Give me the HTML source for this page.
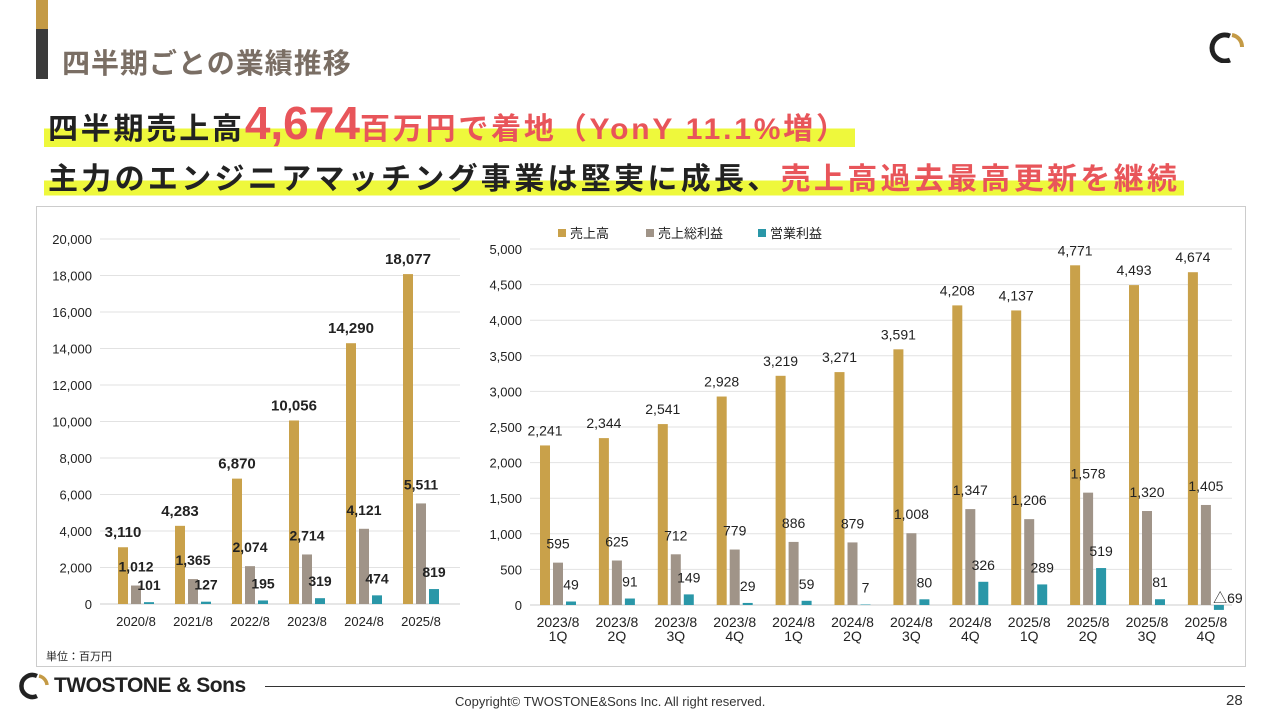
<!DOCTYPE html>
<html><head><meta charset="utf-8">
<style>
body{margin:0;width:1280px;height:720px;background:#fff;overflow:hidden;position:relative;font-family:"Liberation Sans","Noto Sans CJK JP",sans-serif;}
.abs{position:absolute}
.hl{background:linear-gradient(transparent 60%,#eef83c 60%,#eef83c 94%,transparent 94%);}
</style></head><body>
<div class="abs" style="left:36px;top:0;width:12px;height:29px;background:#c49a45"></div>
<div class="abs" style="left:36px;top:29px;width:12px;height:50px;background:#3b3b3b"></div>
<div class="abs" style="left:62px;top:42px;font-size:28px;color:#7a6e64;font-weight:bold;letter-spacing:1px">四半期ごとの業績推移</div>
<div class="abs" style="left:1208px;top:31px;width:36px;height:32px">
<svg width="36" height="32"><path d="M22 5 A13 13 0 1 0 22 29" fill="none" stroke="#222" stroke-width="5"/><path d="M24 4 A12 12 0 0 1 34 16" fill="none" stroke="#c49a45" stroke-width="4"/></svg></div>
<div class="abs hl" style="left:44px;top:96px;font-size:30px;font-weight:bold;color:#222;white-space:nowrap;padding:0 6px 0 4px;letter-spacing:2.8px">四半期売上高<span style="color:#e8555a;font-size:46px;letter-spacing:0">4,674</span><span style="color:#e8555a">百万円で着地（YonY 11.1%増）</span></div>
<div class="abs hl" style="left:44px;top:154px;font-size:30px;font-weight:bold;color:#222;white-space:nowrap;padding:0 4px;letter-spacing:3.3px">主力のエンジニアマッチング事業は堅実に成長、<span style="color:#e8555a">売上高過去最高更新を継続</span></div>
<div class="abs" style="left:36px;top:206px;width:1208px;height:459px;border:1px solid #ccc"></div>
<svg class="abs" id="ch" style="left:0;top:0" width="1280" height="720"></svg>
<div class="abs" style="left:46px;top:648px;font-size:11px;color:#222">単位：百万円</div>
<div class="abs" style="left:18px;top:672px;display:flex;align-items:center">
<svg width="32" height="28"><path d="M19 4 A11 11 0 1 0 19 24" fill="none" stroke="#222" stroke-width="4.5"/><path d="M21 4 A10 10 0 0 1 29 13" fill="none" stroke="#c49a45" stroke-width="3.5"/></svg>
<span style="font-size:21px;font-weight:bold;color:#222;margin-left:4px;letter-spacing:-0.5px">TWOSTONE &amp; Sons</span></div>
<div class="abs" style="left:265px;top:686px;width:980px;height:1px;background:#333"></div>
<div class="abs" style="left:455px;top:694px;font-size:13px;color:#333">Copyright© TWOSTONE&amp;Sons Inc. All right reserved.</div>
<div class="abs" style="left:1226px;top:692px;font-size:15px;color:#333">28</div>
<script>
const annualCats=["2020/8","2021/8","2022/8","2023/8","2024/8","2025/8"];
const annualSales=[3110,4283,6870,10056,14290,18077];
const annualGross=[1012,1365,2074,2714,4121,5511];
const annualOp=[101,127,195,319,474,819];
const annualTicks=[0,2000,4000,6000,8000,10000,12000,14000,16000,18000,20000];
const qCats1=["2023/8","2023/8","2023/8","2023/8","2024/8","2024/8","2024/8","2024/8","2025/8","2025/8","2025/8","2025/8"];
const qCats2=["1Q","2Q","3Q","4Q","1Q","2Q","3Q","4Q","1Q","2Q","3Q","4Q"];
const qSales=[2241,2344,2541,2928,3219,3271,3591,4208,4137,4771,4493,4674];
const qGross=[595,625,712,779,886,879,1008,1347,1206,1578,1320,1405];
const qOp=[49,91,149,29,59,7,80,326,289,519,81,-69];
const qTicks=[0,500,1000,1500,2000,2500,3000,3500,4000,4500,5000];
const C=["#c9a14a","#a09488","#2a97a8"];
const svg=document.getElementById('ch');
const NS="http://www.w3.org/2000/svg";
function mk(t,a,txt){const e=document.createElementNS(NS,t);for(const k in a)e.setAttribute(k,a[k]);if(txt!==undefined)e.textContent=txt;svg.appendChild(e);return e;}
const fmt=v=>v<0?"△"+Math.abs(v):v.toLocaleString("en-US");
function chart(o){
 const y=v=>o.y0-(v/o.max)*(o.y0-o.y1);
 o.ticks.forEach(t=>{const g=mk('line',{x1:o.xl,x2:o.xr,y1:y(t),y2:y(t),stroke:t===0?'#ccc':'#e2e2e2'});
  
  const l=mk('text',{x:o.xl-8,y:y(t)+5,'text-anchor':'end','font-size':13,fill:'#222'},t.toLocaleString("en-US"));
  });
 const x=i=>o.xc0+i*o.step;
 [o.s,o.g,o.p].forEach((ser,si)=>{ser.forEach((v,i)=>{
  const bx=x(i)+(si-1)*13-5;const top=Math.min(y(v),y(0));const h=Math.abs(y(v)-y(0));
  const r=mk('rect',{x:bx,y:top,width:10,height:Math.max(h,0.5),fill:C[si]});
  
  let ly=si===0?y(v)-10:(v<0?y(0)-2:y(v)-(si===1?14:12));
  let lx=bx+5;
  if(v<0){lx=bx+14;}
  const t=mk('text',{x:lx,y:ly,'text-anchor':'middle','font-size':si===0?o.fs0:o.fs,'font-weight':o.bold,fill:'#222'},fmt(v));
  });});
 o.c1.forEach((c,i)=>{const t=mk('text',{x:x(i),y:o.y0+22,'text-anchor':'middle','font-size':o.cfs,fill:'#222'},c);
  
  if(o.c2){const t2=mk('text',{x:x(i),y:o.y0+36,'text-anchor':'middle','font-size':o.cfs,fill:'#222'},o.c2[i]);
  }});
}
chart({y0:604,y1:239,max:20000,xl:100,xr:460,xc0:136,step:57,s:annualSales,g:annualGross,p:annualOp,ticks:annualTicks,c1:annualCats,fs0:15,fs:14,bold:'bold',cfs:13});
chart({y0:605,y1:249,max:5000,xl:530,xr:1232,xc0:558,step:58.9,s:qSales,g:qGross,p:qOp,ticks:qTicks,c1:qCats1,c2:qCats2,fs0:14,fs:14,bold:'normal',cfs:14});
const legs=[["売上高",558],["売上総利益",646],["営業利益",758]];
legs.forEach((l,i)=>{const r=mk('rect',{x:l[1],y:229,width:8,height:8,fill:C[i]});
 
 const t=mk('text',{x:l[1]+12,y:238,'font-size':13,fill:'#222'},l[0]);
 });
</script>
</body></html>
